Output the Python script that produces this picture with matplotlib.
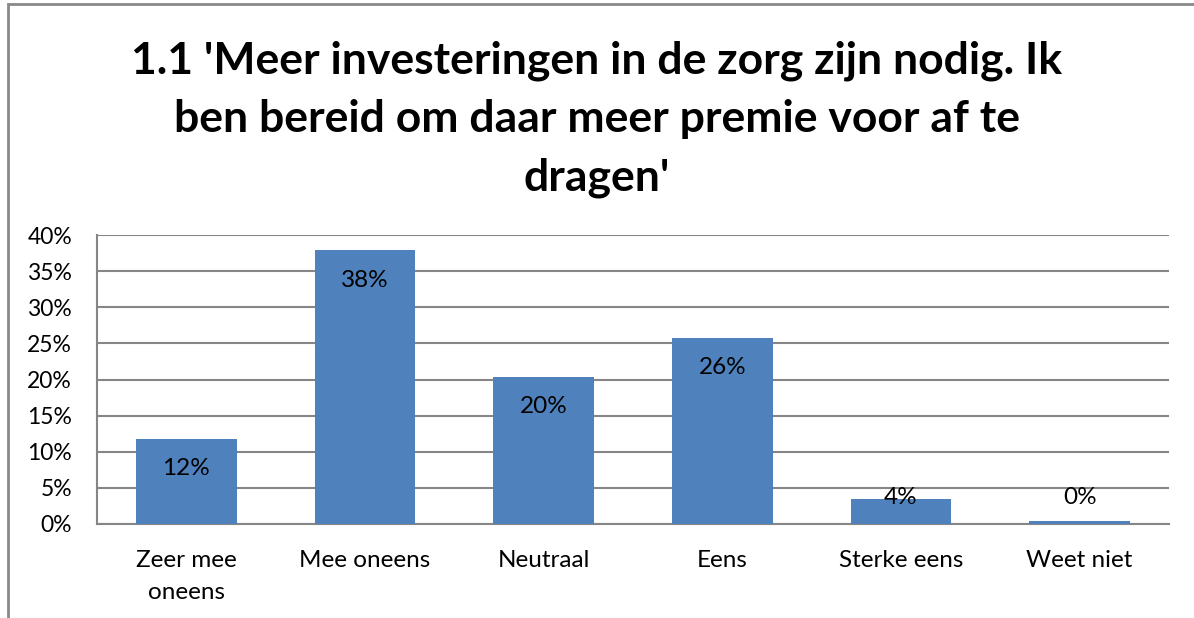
import matplotlib
matplotlib.use("Agg")
import matplotlib.pyplot as plt
import matplotlib.ticker as mticker
from matplotlib.patches import Rectangle

# survey answers (share of respondents, %)
categories = ["Zeer mee\noneens", "Mee oneens", "Neutraal", "Eens", "Sterke eens", "Weet niet"]
values = [11.8, 37.9, 20.4, 25.8, 3.5, 0.4]
value_labels = ["12%", "38%", "20%", "26%", "4%", "0%"]
yticks = [0, 5, 10, 15, 20, 25, 30, 35, 40]

title = "1.1 'Meer investeringen in de zorg zijn nodig. Ik\nben bereid om daar meer premie voor af te\ndragen'"

plt.rcParams['font.family'] = ['Lato', 'DejaVu Sans']

fig = plt.figure(figsize=(11.94, 6.18), dpi=100)
ax = fig.add_axes([97/1194, 1-524/618, (1169-97)/1194, (524-235)/618])

grid_col = '#868686'
bar_col = '#4F81BD'
fs = 17.5

x = list(range(len(categories)))
ax.bar(x, values, width=0.565, color=bar_col, zorder=3)

for xi, v, lab in zip(x, values, value_labels):
    ypos = max(v - 4.15, 3.6)
    ax.text(xi, ypos, lab, ha='center', va='center', fontsize=fs, color='black', zorder=4)

ax.set_xlim(-0.5, len(categories) - 0.5)
ax.set_ylim(0, 40)
ax.set_yticks(yticks)
ax.yaxis.set_major_formatter(mticker.FuncFormatter(lambda v, p: "%d%%" % v))
ax.set_xticks(x)
ax.set_xticklabels(categories, fontsize=fs, linespacing=1.6)
ax.tick_params(axis='y', labelsize=16.5, length=0, pad=18)
ax.tick_params(axis='x', length=0, pad=19)

ax.yaxis.grid(True, color=grid_col, linewidth=1.5, zorder=0)
ax.set_axisbelow(True)
for s in ['top', 'right']:
    ax.spines[s].set_visible(False)
ax.spines['left'].set_color(grid_col)
ax.spines['left'].set_linewidth(1.5)
ax.spines['bottom'].set_color(grid_col)
ax.spines['bottom'].set_linewidth(1.5)

fig.text(0.5, 1 - 119/618, title, ha='center', va='center', fontsize=32,
         fontweight='bold', linespacing=1.55)

# chart frame (runs off the right and bottom edge like the screenshot)
fig.patches.append(Rectangle((8/1194, -0.05), 1.1, 1 - 4/618 + 0.05, transform=fig.transFigure,
                             fill=False, edgecolor='#898989', linewidth=2))

fig.savefig("out.png", dpi=100)
